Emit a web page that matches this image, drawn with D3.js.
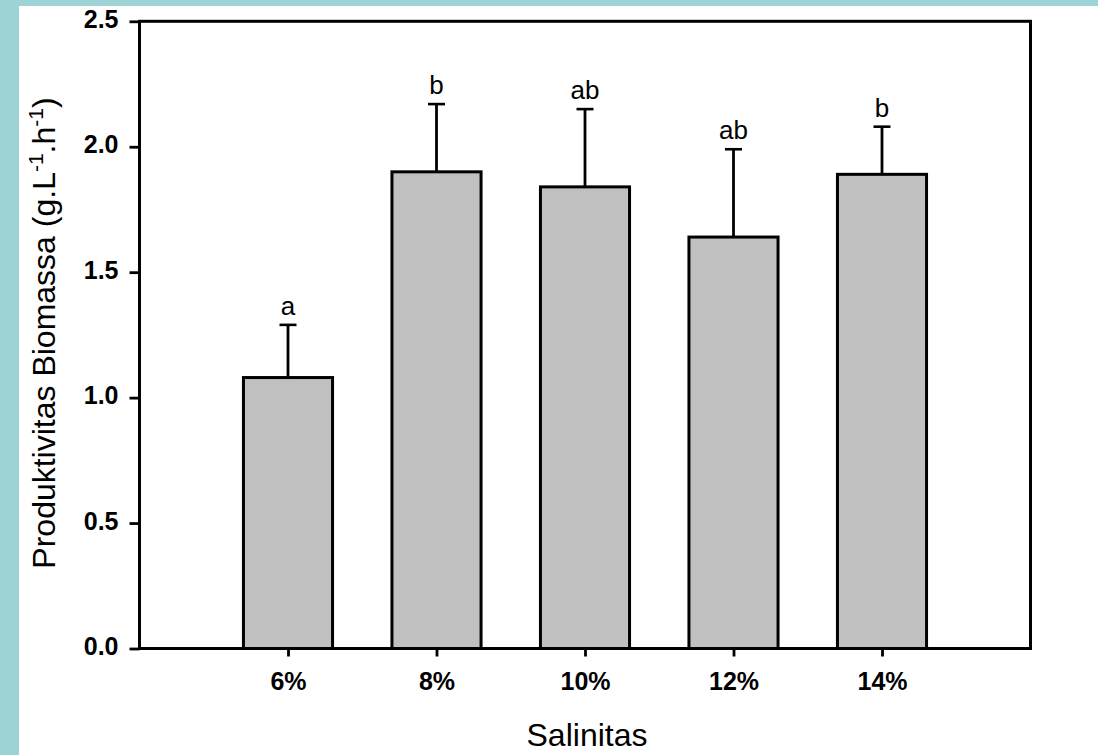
<!DOCTYPE html>
<html>
<head>
<meta charset="utf-8">
<script src="https://cdn.jsdelivr.net/npm/d3@7"></script>
<style>
  html, body { margin: 0; padding: 0; background: #9dd3d4; }
  svg { display: block; }
</style>
</head>
<body>
<svg id="chart" width="1098" height="755"></svg>
<script>
// Biomass productivity at each salinity level, with standard deviation and significance letters
const categories = ["6%", "8%", "10%", "12%", "14%"];
const means      = [1.08, 1.90, 1.84, 1.64, 1.89];
const errors     = [0.21, 0.27, 0.31, 0.35, 0.19];
const letters    = ["a", "b", "ab", "ab", "b"];
const yTicks     = [0.0, 0.5, 1.0, 1.5, 2.0, 2.5];

const svg = d3.select("#chart");
const font = "Arial, 'Liberation Sans', sans-serif";

// white page with the teal margin on the left and top
svg.append("rect")
  .attr("x", 19).attr("y", 6)
  .attr("width", 1098 - 19).attr("height", 755 - 6)
  .attr("fill", "#ffffff");

const plot = { left: 139.5, right: 1030.5, top: 21.3, bottom: 648.5 };

// categories sit at positions 1..5 on a 0..6 axis
const x = d3.scaleLinear().domain([0, categories.length + 1]).range([plot.left, plot.right]);
const y = d3.scaleLinear().domain([0, 2.5]).range([plot.bottom, plot.top]);
const step = x(1) - x(0);
const barW = step * 0.6;

const g = svg.append("g");

// bars
g.selectAll("rect.bar")
  .data(means)
  .join("rect")
  .attr("class", "bar")
  .attr("x", (d, i) => x(i + 1) - barW / 2)
  .attr("y", d => y(d))
  .attr("width", barW)
  .attr("height", d => y(0) - y(d))
  .attr("fill", "#c0c0c0")
  .attr("stroke", "#000")
  .attr("stroke-width", 3);

// upper error bars
const eb = g.selectAll("g.err")
  .data(means.map((m, i) => ({ m, e: errors[i], i })))
  .join("g").attr("class", "err");
eb.append("line")
  .attr("x1", d => x(d.i + 1)).attr("x2", d => x(d.i + 1))
  .attr("y1", d => y(d.m)).attr("y2", d => y(d.m + d.e))
  .attr("stroke", "#000").attr("stroke-width", 2.8);
eb.append("line")
  .attr("x1", d => x(d.i + 1) - 8.5).attr("x2", d => x(d.i + 1) + 8.5)
  .attr("y1", d => y(d.m + d.e)).attr("y2", d => y(d.m + d.e))
  .attr("stroke", "#000").attr("stroke-width", 2.6);

// significance letters above the caps
eb.append("text")
  .attr("x", d => x(d.i + 1))
  .attr("y", d => y(d.m + d.e) - 10)
  .attr("text-anchor", "middle")
  .attr("font-family", font)
  .attr("font-size", 26)
  .attr("fill", "#000")
  .text(d => letters[d.i]);

// axes
const yAxis = d3.axisLeft(y)
  .tickValues(yTicks)
  .tickFormat(d3.format(".1f"))
  .tickSize(10)
  .tickPadding(11);
const gy = g.append("g").attr("transform", `translate(${plot.left},0)`).call(yAxis);

const xAxis = d3.axisBottom(x)
  .tickValues(categories.map((c, i) => i + 1))
  .tickFormat((d) => categories[d - 1])
  .tickSize(8)
  .tickPadding(15.5);
const gx = g.append("g").attr("transform", `translate(0,${plot.bottom})`).call(xAxis);

[gx, gy].forEach(ax => {
  ax.select(".domain").remove();
  ax.selectAll(".tick line").attr("stroke", "#000").attr("stroke-width", 2.8);
  ax.selectAll(".tick text")
    .attr("fill", "#000")
    .attr("font-family", font)
    .attr("font-size", 25)
    .attr("font-weight", "bold");
});
gy.selectAll(".tick text").attr("dy", "0.24em");

// frame around the plot area
g.append("rect")
  .attr("x", plot.left).attr("y", plot.top)
  .attr("width", plot.right - plot.left)
  .attr("height", plot.bottom - plot.top)
  .attr("fill", "none")
  .attr("stroke", "#000")
  .attr("stroke-width", 3);

// axis titles
g.append("text")
  .attr("x", (plot.left + plot.right) / 2 + 2)
  .attr("y", 746)
  .attr("text-anchor", "middle")
  .attr("font-family", font)
  .attr("font-size", 32)
  .attr("fill", "#000")
  .text("Salinitas");

const yt = g.append("text")
  .attr("transform", "translate(55,333) rotate(-90)")
  .attr("text-anchor", "middle")
  .attr("font-family", font)
  .attr("font-size", 32)
  .attr("fill", "#000");
yt.append("tspan").text("Produktivitas Biomassa (g.L");
yt.append("tspan").attr("dy", -12).attr("font-size", 21).text("-1");
yt.append("tspan").attr("dy", 12).text(".h");
yt.append("tspan").attr("dy", -12).attr("font-size", 21).text("-1");
yt.append("tspan").attr("dy", 12).text(")");
</script>
</body>
</html>
